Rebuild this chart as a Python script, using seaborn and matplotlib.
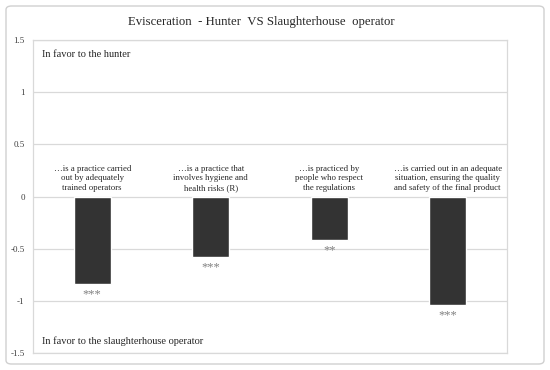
import matplotlib
matplotlib.use("Agg")
import matplotlib.pyplot as plt
import seaborn as sns
import pandas as pd
from matplotlib.patches import FancyBboxPatch

statements = [
    "…is a practice carried\nout by adequately\ntrained operators",
    "…is a practice that\ninvolves hygiene and\nhealth risks (R)",
    "…is practiced by\npeople who respect\nthe regulations",
    "…is carried out in an adequate\nsituation, ensuring the quality\nand safety of the final product",
]
scores = [-0.84, -0.58, -0.42, -1.04]
stars = ["***", "***", "**", "***"]
y_ticks = [-1.5, -1, -0.5, 0, 0.5, 1, 1.5]
y_labels = ["-1.5", "-1", "-0.5", "0", "0.5", "1", "1.5"]

df = pd.DataFrame({"statement": statements, "score": scores})

sns.set_theme(style="white")
plt.rcParams["font.family"] = ["Liberation Serif", "DejaVu Serif"]

fig = plt.figure(figsize=(5.5, 3.7), dpi=100)
ax = fig.add_axes([33 / 550, 1 - 353 / 370, 474 / 550, 313 / 370])

# outer rounded frame
fig.patches.append(FancyBboxPatch((6 / 550, 6 / 370), 538 / 550, 358 / 370,
                                  boxstyle="round,pad=0,rounding_size=0.01",
                                  transform=fig.transFigure, fill=False,
                                  edgecolor="#d0d0d0", linewidth=1.0))

sns.barplot(data=df, x="statement", y="score", color="#333333",
            width=0.31, saturation=1, ax=ax, zorder=3)

ax.set_ylim(-1.5, 1.5)
ax.set_xlim(-0.5, 3.5)
ax.set_yticks(y_ticks)
ax.set_yticklabels(y_labels, fontsize=6.5, color="#404040")
ax.tick_params(axis="y", length=0, pad=6)
ax.set_xticks([])
ax.set_xlabel("")
ax.set_ylabel("")
for y in y_ticks:
    ax.axhline(y, color="#d9d9d9", linewidth=0.9, zorder=1)
for s in ax.spines.values():
    s.set_color("#d9d9d9")
    s.set_linewidth(0.9)

for i, (txt, v, st) in enumerate(zip(statements, scores, stars)):
    ax.text(i, 0.045, txt, ha="center", va="bottom", fontsize=6.3,
            color="#262626", linespacing=1.25, zorder=4)
    ax.text(i, v - 0.1, st, ha="center", va="center", fontsize=9,
            color="#808080", zorder=4)

ax.text(0.018, 0.955, "In favor to the hunter", transform=ax.transAxes,
        ha="left", va="center", fontsize=7.5, color="#262626")
ax.text(0.018, 0.037, "In favor to the slaughterhouse operator",
        transform=ax.transAxes, ha="left", va="center", fontsize=7.5,
        color="#262626")

fig.text(261 / 550, 1 - 22 / 370, "Evisceration  - Hunter  VS Slaughterhouse  operator",
         ha="center", va="center", fontsize=9.2, color="#262626")

fig.savefig("out.png", dpi=100)
